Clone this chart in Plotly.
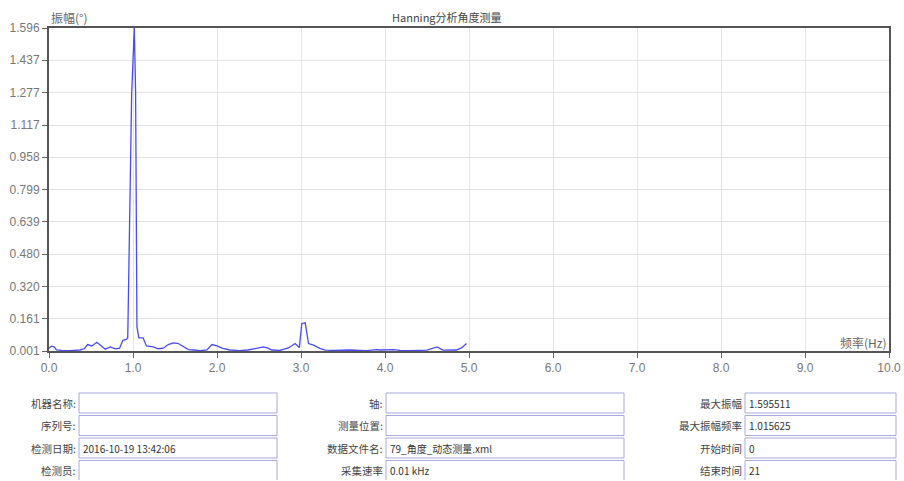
import plotly.graph_objects as go

# ---------------- data ----------------
freq_hz = [0.00, 0.03, 0.06, 0.09, 0.15, 0.25, 0.37, 0.42, 0.46, 0.51, 0.57, 0.63, 0.67, 0.73,
           0.79, 0.84, 0.88, 0.92, 0.9375, 0.984, 1.0156, 1.031, 1.047, 1.07, 1.09, 1.12, 1.16,
           1.24, 1.30, 1.36, 1.42, 1.48, 1.54, 1.60, 1.66, 1.72, 1.80, 1.88, 1.94, 2.00, 2.06,
           2.15, 2.27, 2.37, 2.47, 2.55, 2.61, 2.65, 2.75, 2.85, 2.93, 2.98, 3.01, 3.05, 3.09,
           3.15, 3.23, 3.29, 3.39, 3.50, 3.58, 3.70, 3.78, 3.90, 3.94, 4.10, 4.18, 4.30, 4.38,
           4.50, 4.62, 4.69, 4.85, 4.91, 4.97]
amplitude = [0.015, 0.025, 0.022, 0.006, 0.004, 0.003, 0.006, 0.012, 0.033, 0.026, 0.044, 0.021,
             0.010, 0.021, 0.012, 0.015, 0.054, 0.058, 0.065, 1.27, 1.5955, 1.28, 0.12, 0.066,
             0.066, 0.066, 0.026, 0.021, 0.012, 0.015, 0.033, 0.041, 0.038, 0.021, 0.008, 0.006,
             0.003, 0.006, 0.033, 0.026, 0.015, 0.006, 0.003, 0.006, 0.015, 0.021, 0.015, 0.006,
             0.004, 0.016, 0.038, 0.018, 0.137, 0.140, 0.038, 0.030, 0.013, 0.005, 0.004, 0.007,
             0.006, 0.004, 0.003, 0.008, 0.006, 0.008, 0.004, 0.003, 0.004, 0.005, 0.021, 0.005,
             0.006, 0.016, 0.038]

y_ticks = [0.001, 0.161, 0.320, 0.480, 0.639, 0.799, 0.958, 1.117, 1.277, 1.437, 1.596]
y_tick_labels = ["0.001", "0.161", "0.320", "0.480", "0.639", "0.799", "0.958", "1.117",
                 "1.277", "1.437", "1.596"]
x_ticks = [0, 1, 2, 3, 4, 5, 6, 7, 8, 9, 10]
x_tick_labels = ["0.0", "1.0", "2.0", "3.0", "4.0", "5.0", "6.0", "7.0", "8.0", "9.0", "10.0"]

title_text = "Hanning分析角度测量"
y_title = "振幅(°)"
x_title = "频率(Hz)"

col1_labels = ["机器名称:", "序列号:", "检测日期:", "检测员:"]
col1_values = ["", "", "2016-10-19 13:42:06", ""]
col2_labels = ["轴:", "测量位置:", "数据文件名:", "采集速率"]
col2_values = ["", "", "79_角度_动态测量.xml", "0.01 kHz"]
col3_labels = ["最大振幅", "最大振幅频率", "开始时间", "结束时间"]
col3_values = ["1.595511", "1.015625", "0", "21"]

# ---------------- layout geometry (pixels) ----------------
W, H = 904, 481
L, R, T, B = 49, 889, 28, 351
PW, PH = R - L, B - T


def px2x(px):
    return (px - L) / PW


def py2y(py):
    return (B - py) / PH


FONT = "Liberation Sans, Arial, Noto Sans CJK SC, sans-serif"
CJK = "Noto Sans CJK SC, sans-serif"

fig = go.Figure()
fig.add_trace(go.Scatter(x=freq_hz, y=amplitude, mode="lines",
                         line=dict(color="#4a4af5", width=1.3),
                         hoverinfo="x+y", showlegend=False))

fig.update_layout(
    width=W, height=H,
    margin=dict(l=L, r=W - R, t=T, b=H - B, pad=0, autoexpand=False),
    paper_bgcolor="white", plot_bgcolor="white",
    font=dict(family=FONT, size=12, color="#777"),
    xaxis=dict(range=[0, 10], tickvals=x_ticks, ticktext=x_tick_labels,
               showgrid=True, gridcolor="#e3e3e3", gridwidth=1,
               showline=True, linecolor="#555", linewidth=2, mirror=True,
               ticks="outside", ticklen=5, tickcolor="#666", automargin=False,
               zeroline=False, tickfont=dict(size=12, color="#777")),
    yaxis=dict(range=[0.001, 1.596], tickvals=y_ticks, ticktext=y_tick_labels,
               showgrid=True, gridcolor="#e3e3e3", gridwidth=1,
               showline=True, linecolor="#555", linewidth=2, mirror=True,
               ticks="outside", ticklen=5, tickcolor="#666", automargin=False,
               zeroline=False, tickfont=dict(size=12, color="#777")),
)

annotations = [
    dict(text=title_text, x=px2x(447), y=py2y(17), xref="paper", yref="paper",
         xanchor="center", yanchor="middle", showarrow=False,
         font=dict(family=CJK, size=11, color="#444")),
    dict(text=y_title, x=px2x(49), y=py2y(17), xref="paper", yref="paper",
         xanchor="left", yanchor="middle", showarrow=False,
         font=dict(family=CJK, size=12, color="#666")),
    dict(text=x_title, x=px2x(889), y=py2y(342), xref="paper", yref="paper",
         xanchor="right", yanchor="middle", showarrow=False,
         font=dict(family=CJK, size=12, color="#666")),
]

shapes = []
row_tops = [393, 415.5, 438, 460.5]
row_h = 20
columns = [
    (col1_labels, col1_values, 79, 277),
    (col2_labels, col2_values, 386, 624),
    (col3_labels, col3_values, 745, 896),
]
box_line = dict(color="#a9a9dd", width=1)
for labels, values, bx0, bx1 in columns:
    for i, (lab, val) in enumerate(zip(labels, values)):
        top = row_tops[i]
        if i < 3:
            shapes.append(dict(type="rect", xref="paper", yref="paper",
                               x0=px2x(bx0), x1=px2x(bx1), y0=py2y(top + row_h), y1=py2y(top),
                               line=box_line, fillcolor="white", layer="above"))
        else:
            # last row is cut by the bottom edge: open box (no bottom side)
            yb, yt = py2y(480), py2y(top)
            xa, xb = px2x(bx0), px2x(bx1)
            shapes.append(dict(type="path", xref="paper", yref="paper",
                               path=f"M {xa},{yb} L {xa},{yt} L {xb},{yt} L {xb},{yb}",
                               line=box_line, layer="above"))
        cy = top + row_h / 2
        annotations.append(dict(text=lab, x=px2x(bx0 - 1), y=py2y(cy), xref="paper", yref="paper",
                                xanchor="right", yanchor="middle", showarrow=False,
                                font=dict(family=CJK, size=10.5, color="#444")))
        if val:
            annotations.append(dict(text=val, x=px2x(bx0 + 2), y=py2y(cy), xref="paper",
                                    yref="paper", xanchor="left", yanchor="middle",
                                    showarrow=False,
                                    font=dict(family=CJK, size=10, color="#333")))

fig.update_layout(annotations=annotations, shapes=shapes)
fig.write_html(
    "out.html",
    config={"displayModeBar": False},
    post_script="document.body.style.margin='0px';document.body.style.overflow='hidden';",
)
